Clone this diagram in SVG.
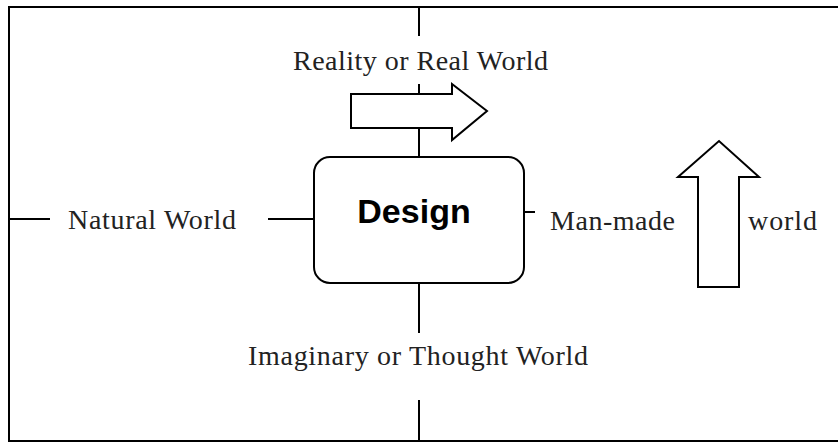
<svg xmlns="http://www.w3.org/2000/svg" width="838" height="443" viewBox="0 0 838 443">
<style>
.ln{stroke:#000;stroke-width:2;fill:none}
.sh{stroke:#000;stroke-width:2;fill:#fff;stroke-linejoin:miter}
.t{font-family:"Liberation Serif","Times New Roman",serif;font-size:28px;fill:#222}
.d{font-family:"Liberation Sans",Arial,sans-serif;font-size:34px;font-weight:bold;fill:#000}
</style>
<rect width="838" height="443" fill="#fff"/>
<rect x="9" y="7" width="840" height="434" class="ln"/>
<g id="connectors">
<line x1="419" y1="7" x2="419" y2="36" class="ln"/>
<line x1="419" y1="84" x2="419" y2="157" class="ln"/>
<line x1="419" y1="283" x2="419" y2="333" class="ln"/>
<line x1="419" y1="400" x2="419" y2="441" class="ln"/>
<line x1="9" y1="219" x2="50" y2="219" class="ln"/>
<line x1="268" y1="219" x2="314" y2="219" class="ln"/>
<line x1="524" y1="212" x2="535" y2="212" class="ln"/>
</g>
<g id="arrow-right">
<polygon points="351,94 452,94 452,84 487,111 452,140 452,128 351,128" class="sh"/>
</g>
<g id="arrow-up">
<polygon points="698,287 698,177 678,177 719,141 759,177 739,177 739,287" class="sh"/>
</g>
<g id="design">
<rect x="314" y="157" width="210" height="126" rx="16" ry="16" class="sh"/>
<text x="414" y="223" text-anchor="middle" class="d">Design</text>
</g>
<g id="reality">
<text x="293" y="70" textLength="255" lengthAdjust="spacing" class="t">Reality or Real World</text>
</g>
<g id="natural">
<text x="68" y="229" textLength="168" lengthAdjust="spacing" class="t">Natural World</text>
</g>
<g id="imaginary">
<text x="248" y="365" textLength="340" lengthAdjust="spacing" class="t">Imaginary or Thought World</text>
</g>
<g id="manmade">
<text x="550" y="230" textLength="125" lengthAdjust="spacing" class="t">Man-made</text>
<text x="748" y="230" textLength="69" lengthAdjust="spacing" class="t">world</text>
</g>
</svg>
